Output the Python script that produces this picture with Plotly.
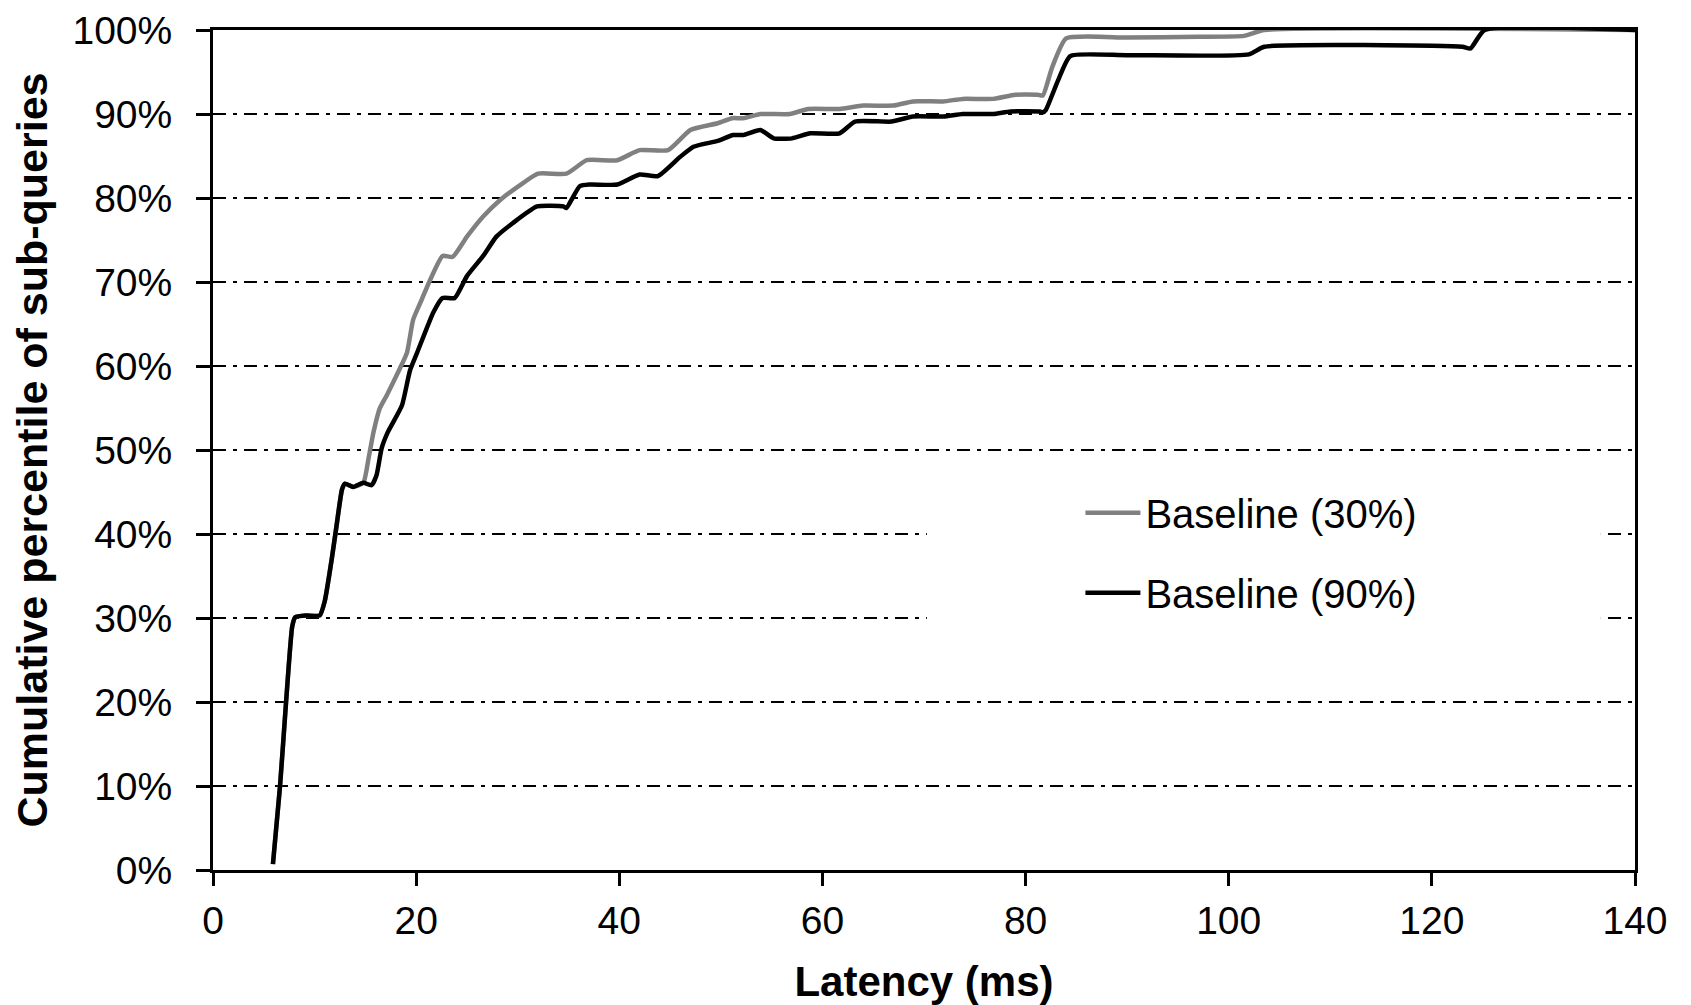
import plotly.graph_objects as go

# ---- data (latency ms vs cumulative percentile %) ----
x_30 = [5.9, 6.6, 7.2, 7.8, 8.1, 9.2, 10.5, 11.0, 11.7, 12.2, 12.7, 13.0, 13.8, 14.8, 15.3, 15.8,
        16.4, 17.1, 18.4, 19.1, 19.7, 20.4, 21.4, 22.6, 23.6, 25.0, 26.6, 28.3, 30.2, 32.0, 34.8,
        36.8, 39.8, 42.0, 44.8, 47.0, 49.7, 51.1, 52.2, 53.9, 56.8, 58.6, 61.7, 64.0, 67.0, 68.9,
        71.9, 73.8, 76.8, 79.0, 81.2, 81.7, 82.6, 84.0, 90.0, 97.0, 101.5, 103.5, 140.0]
y_30 = [0.7, 10, 20.1, 29, 30.1, 30.3, 30.3, 32, 37.1, 41.3, 45.3, 46, 45.6, 46.1, 48.9, 52.1,
        54.9, 56.5, 59.7, 61.6, 65.5, 67.5, 70.3, 73.1, 73.0, 75.4, 77.8, 79.8, 81.5, 82.9, 82.9,
        84.5, 84.5, 85.7, 85.7, 88.1, 88.9, 89.5, 89.5, 90.0, 90.0, 90.6, 90.6, 91.0, 91.0, 91.5,
        91.5, 91.8, 91.8, 92.3, 92.3, 92.2, 95.5, 99.0, 99.1, 99.2, 99.3, 100, 100]

x_90 = [5.9, 6.6, 7.2, 7.8, 8.1, 9.2, 10.5, 11.0, 11.7, 12.2, 12.7, 13.0, 13.8, 14.8, 15.6, 16.1,
        16.6, 17.2, 18.6, 19.4, 20.1, 21.7, 22.6, 23.8, 25.0, 26.6, 27.9, 29.5, 31.9, 34.5, 34.8,
        36.1, 37.1, 39.8, 42.0, 43.8, 46.0, 47.3, 49.7, 51.2, 52.2, 53.9, 55.2, 57.0, 58.8, 61.7,
        63.2, 66.8, 68.9, 71.9, 73.8, 76.8, 78.5, 81.4, 81.7, 82.0, 83.2, 84.4, 90.0, 102.0, 103.5,
        123.0, 123.8, 125.2, 140.0]
y_90 = [0.7, 10, 20.1, 29, 30.1, 30.3, 30.3, 32, 37.1, 41.3, 45.3, 46, 45.6, 46.1, 45.8, 47,
        50.2, 52.1, 55.3, 59.5, 61.6, 66.4, 68.1, 68.1, 70.7, 73.1, 75.4, 77, 79, 79, 78.8,
        81.4, 81.6, 81.6, 82.8, 82.6, 84.9, 86.1, 86.8, 87.5, 87.5, 88.1, 87.1, 87.1, 87.7, 87.7,
        89.1, 89.1, 89.7, 89.7, 90.0, 90.0, 90.3, 90.3, 90.2, 90.5, 94.0, 96.9, 97.0, 97.1, 98.0,
        98.0, 97.8, 100, 100]

series_names = ["Baseline (30%)", "Baseline (90%)"]
x_ticks = [0, 20, 40, 60, 80, 100, 120, 140]
y_ticks = [0, 10, 20, 30, 40, 50, 60, 70, 80, 90, 100]
y_tick_labels = ["0%", "10%", "20%", "30%", "40%", "50%", "60%", "70%", "80%", "90%", "100%"]

FONT = "Liberation Sans, Arial, sans-serif"

fig = go.Figure()
fig.add_trace(go.Scatter(x=x_30, y=y_30, mode="lines", name=series_names[0],
                         legendgroup="a",
                         line=dict(color="#808080", width=4.5, shape="spline", smoothing=0.5)))
fig.add_trace(go.Scatter(x=x_90, y=y_90, mode="lines", name=series_names[1],
                         legendgroup="b",
                         line=dict(color="#000000", width=4.5, shape="spline", smoothing=0.5)))

# white legend background that interrupts gridlines (no traces pass through this area)
fig.add_shape(type="rect", xref="paper", yref="paper", x0=0.502, x1=0.976, y0=0.28, y1=0.47,
              fillcolor="white", line=dict(width=0), layer="above")

fig.update_layout(
    width=1691, height=1005,
    margin=dict(l=205, r=64, t=22, b=143),
    paper_bgcolor="white", plot_bgcolor="white",
    font=dict(family=FONT, color="black", size=39),
    showlegend=True,
    legend=dict(x=0.61, y=0.464, xanchor="left", yanchor="top", itemwidth=55,
                bgcolor="rgba(0,0,0,0)", font=dict(size=40, family=FONT),
                traceorder="grouped", tracegroupgap=25),
)
fig.update_xaxes(
    range=[0, 140], tickvals=x_ticks, ticks="outside", ticklen=13, tickwidth=2.5,
    tickcolor="black", showline=True, linewidth=3, linecolor="black", mirror=True,
    showgrid=False, zeroline=False, tickfont=dict(size=39, family=FONT),
    ticklabelstandoff=1, automargin=False, ticklabeloverflow="allow",
    title=dict(text="<b>Latency (ms)</b>", font=dict(size=42, family=FONT), standoff=26),
)
fig.update_yaxes(
    range=[0, 100], tickvals=y_ticks, ticktext=y_tick_labels, ticks="outside", ticklen=14,
    tickwidth=2.5, tickcolor="black", showline=True, linewidth=3, linecolor="black", mirror=True,
    showgrid=True, gridcolor="black", gridwidth=2, griddash="13px,7px,4px,7px",
    zeroline=False, tickfont=dict(size=39, family=FONT), ticklabelstandoff=16, automargin=False,
    ticklabeloverflow="allow",
    title=dict(text="<b>Cumulative percentile of sub-queries</b>", font=dict(size=43, family=FONT),
               standoff=31),
)

fig.write_html("out.html")
